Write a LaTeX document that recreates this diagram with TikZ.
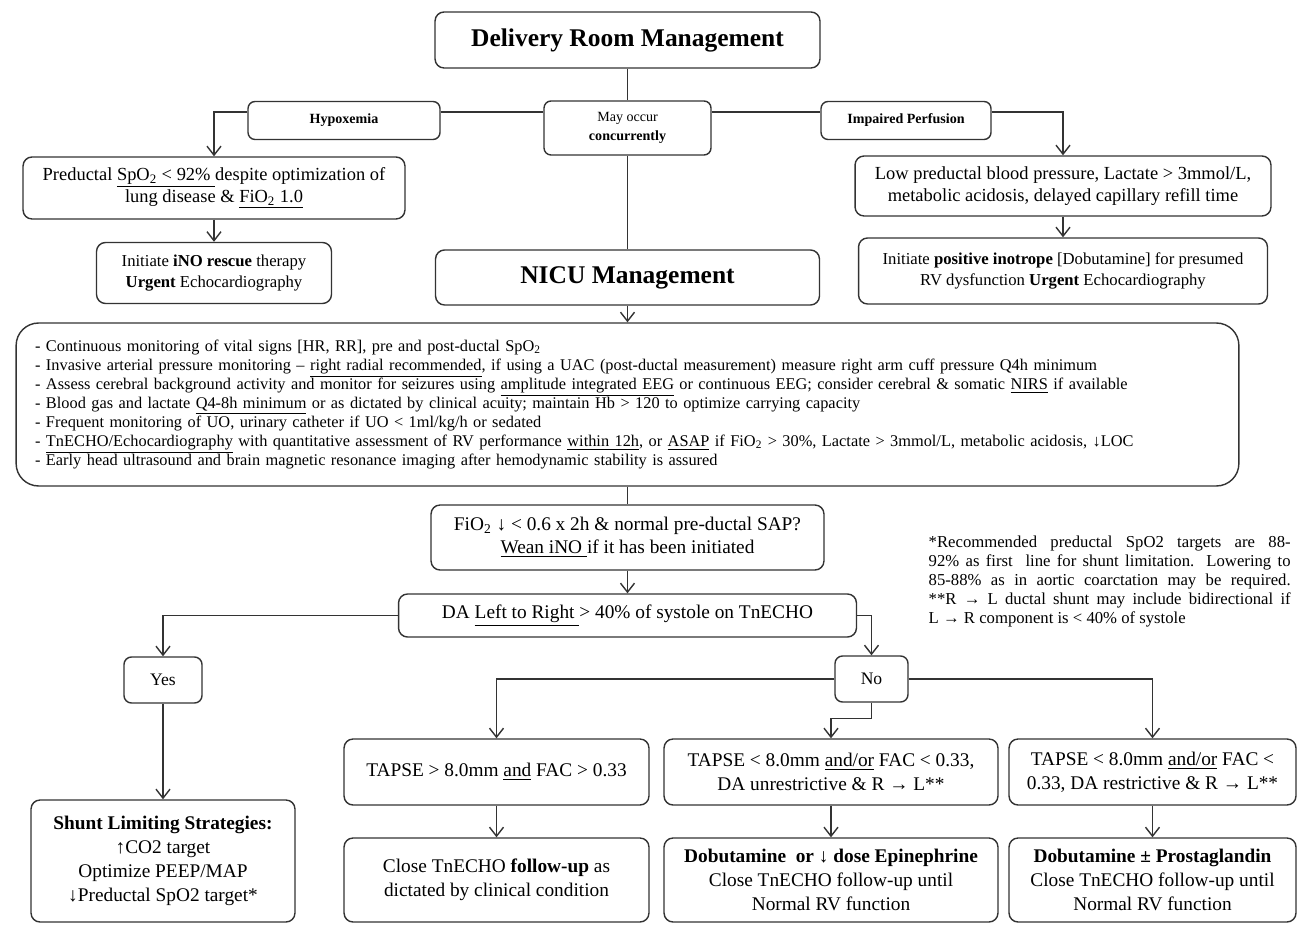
\documentclass[tikz,border=0pt]{standalone}
\usepackage{fontspec}
\setmainfont{Liberation Serif}
\usetikzlibrary{arrows.meta}

\newcommand{\fs}[2]{\fontsize{#1}{#2}\selectfont}

\begin{document}
\begin{tikzpicture}[
    x=0.02cm, y=-0.02cm,
    >={Straight Barb[length=1.8mm,width=2.8mm]},
    color=black!80, line width=0.8pt,
    every node/.style={text=black,font=\fs{11}{13.6}},
    box/.style={draw,rounded corners=1.8mm,align=center,inner sep=0pt},
    tag/.style={box,rounded corners=1.4mm,font=\bfseries\fs{8}{10.5}},
    title/.style={box,font=\bfseries\fs{14.5}{17}}
]
\useasboundingbox (0,0) rectangle (1300,925);

% Delivery room
\node[title,minimum width=7.7cm,minimum height=1.12cm] (drm) at (627.5,40) {Delivery Room Management};
\coordinate (bus) at (627.5,112);
\node[tag,minimum width=3.84cm,minimum height=0.76cm] (hyp) at (344,120.5) {Hypoxemia};
\node[tag,minimum width=3.34cm,minimum height=1.08cm,font=\fs{8}{10.5}] (conc) at (627.5,128) {May occur\\\textbf{concurrently}};
\node[tag,minimum width=3.4cm,minimum height=0.76cm] (perf) at (906,120.5) {Impaired Perfusion};

\draw (drm) -- (conc);
\draw (hyp.east |- bus) -- (conc.west |- bus);
\draw (conc.east |- bus) -- (perf.west |- bus);

% Hypoxemia branch
\node[box,minimum width=7.64cm,minimum height=1.24cm,font=\fs{10.5}{12.5}] (spo) at (214,188)
    {Preductal \underline{SpO\textsubscript{2} < 92\% }despite optimization of\\lung disease \& \underline{FiO\textsubscript{2} 1.0}};
\node[box,minimum width=4.7cm,minimum height=1.22cm,font=\fs{9.5}{11.5}] (ino) at (214,273)
    {Initiate \textbf{iNO rescue} therapy\\\textbf{Urgent} Echocardiography};
\draw[->] (hyp.west |- bus) -| (spo.north);
\draw[->] (spo) -- (ino);

% Perfusion branch
\node[box,minimum width=8.32cm,minimum height=1.2cm,font=\fs{10.5}{12.5}] (lowbp) at (1063,186)
    {Low preductal blood pressure, Lactate > 3mmol/L,\\metabolic acidosis, delayed capillary refill time};
\node[box,minimum width=8.18cm,minimum height=1.32cm,font=\fs{9.5}{11.5}] (inot) at (1063,271)
    {Initiate \textbf{positive inotrope} [Dobutamine] for presumed\\RV dysfunction \textbf{Urgent} Echocardiography};
\draw[->] (perf.east |- bus) -| (lowbp.north);
\draw[->] (lowbp) -- (inot);

% NICU
\node[title,minimum width=7.68cm,minimum height=1.1cm] (nicu) at (627.5,277.5) {NICU Management};
\draw (conc) -- (nicu);

\node[box,rounded corners=4.5mm,minimum height=3.26cm,text width=23.7cm,inner xsep=0.38cm,
      align=left,font=\fs{9.3}{10.9}] (mon) at (627.5,404.5)
    {- Continuous monitoring of vital signs [HR, RR], pre and post-ductal SpO\textsubscript{2}\\
     - Invasive arterial pressure monitoring – \underline{right radial recommended}, if using a UAC (post-ductal measurement) measure right arm cuff pressure Q4h minimum\\
     - Assess cerebral background activity and monitor for seizures using \underline{amplitude integrated EEG} or continuous EEG; consider cerebral \& somatic \underline{NIRS} if available\\
     - Blood gas and lactate \underline{Q4-8h minimum} or as dictated by clinical acuity; maintain Hb > 120 to optimize carrying capacity\\
     - Frequent monitoring of UO, urinary catheter if UO < 1ml/kg/h or sedated\\
     - \underline{TnECHO/Echocardiography} with quantitative assessment of RV performance \underline{within 12h}, or \underline{ASAP} if FiO\textsubscript{2} > 30\%, Lactate > 3mmol/L, metabolic acidosis, ↓LOC\\
     - Early head ultrasound and brain magnetic resonance imaging after hemodynamic stability is assured};
\draw[->] (nicu) -- (mon);

% Weaning and ductal flow
\node[box,minimum width=7.86cm,minimum height=1.3cm,font=\fs{11}{13}] (fio) at (627.5,537.5)
    {FiO\textsubscript{2} ↓ < 0.6 x 2h \& normal pre-ductal SAP?\\\underline{Wean iNO }if it has been initiated};
\node[box,minimum width=9.16cm,minimum height=0.86cm] (da) at (627.5,615.5)
    {DA \underline{Left to Right }> 40\% of systole on TnECHO};
\draw (mon) -- (fio);
\draw[->] (fio) -- (da);

\node[anchor=north west,text width=7.24cm,align=justify,inner sep=0pt,font=\fs{9.5}{10.9}] (note) at (928,535)
    {*Recommended preductal SpO2 targets are 88-\linebreak 92\% as first~ line for shunt limitation. Lowering to\linebreak
     85-88\% as in aortic coarctation may be required.\linebreak **R → L ductal shunt may include bidirectional if\linebreak
     L → R component is < 40\% of systole};

% Yes / No
\node[box,rounded corners=1.5mm,minimum width=1.56cm,minimum height=0.92cm,font=\fs{10}{12}] (yes) at (163,680) {Yes};
\node[box,rounded corners=1.5mm,minimum width=1.46cm,minimum height=0.92cm,font=\fs{10}{12}] (no) at (871.5,679) {No};
\draw[->] (da.west) -| (yes.north);
\draw[->] (da.east) -| (no.north);

\node[box,minimum width=5.28cm,minimum height=2.44cm] (shunt) at (163,861)
    {\textbf{Shunt Limiting Strategies:}\\↑CO2 target\\Optimize PEEP/MAP\\↓Preductal SpO2 target*};
\draw[->] (yes) -- (shunt);

% Right ventricle assessment
\node[box,minimum width=6.1cm,minimum height=1.32cm] (t1) at (496.5,772) {TAPSE > 8.0mm \underline{and} FAC > 0.33};
\node[box,minimum width=6.68cm,minimum height=1.32cm] (t2) at (831,772) {TAPSE < 8.0mm \underline{and/or} FAC < 0.33,\\DA unrestrictive \& R → L**};
\node[box,minimum width=5.74cm,minimum height=1.32cm] (t3) at (1152.5,772) {TAPSE < 8.0mm \underline{and/or} FAC <\\0.33, DA restrictive \& R → L**};

\draw[->] (no.west) -| (t1.north);
\draw[->] (no.east) -| (t3.north);
\draw[->] (no.south) -- ++(0,16) -| (t2.north);

\node[box,minimum width=6.1cm,minimum height=1.68cm] (f1) at (496.5,880) {Close TnECHO \textbf{follow-up} as\\dictated by clinical condition};
\node[box,minimum width=6.68cm,minimum height=1.68cm] (f2) at (831,880) {\textbf{Dobutamine~ or ↓ dose Epinephrine}\\Close TnECHO follow-up until\\Normal RV function};
\node[box,minimum width=5.74cm,minimum height=1.68cm] (f3) at (1152.5,880) {\textbf{Dobutamine ± Prostaglandin}\\Close TnECHO follow-up until\\Normal RV function};

\draw[->] (t1) -- (f1);
\draw[->] (t2) -- (f2);
\draw[->] (t3) -- (f3);

\end{tikzpicture}
\end{document}
